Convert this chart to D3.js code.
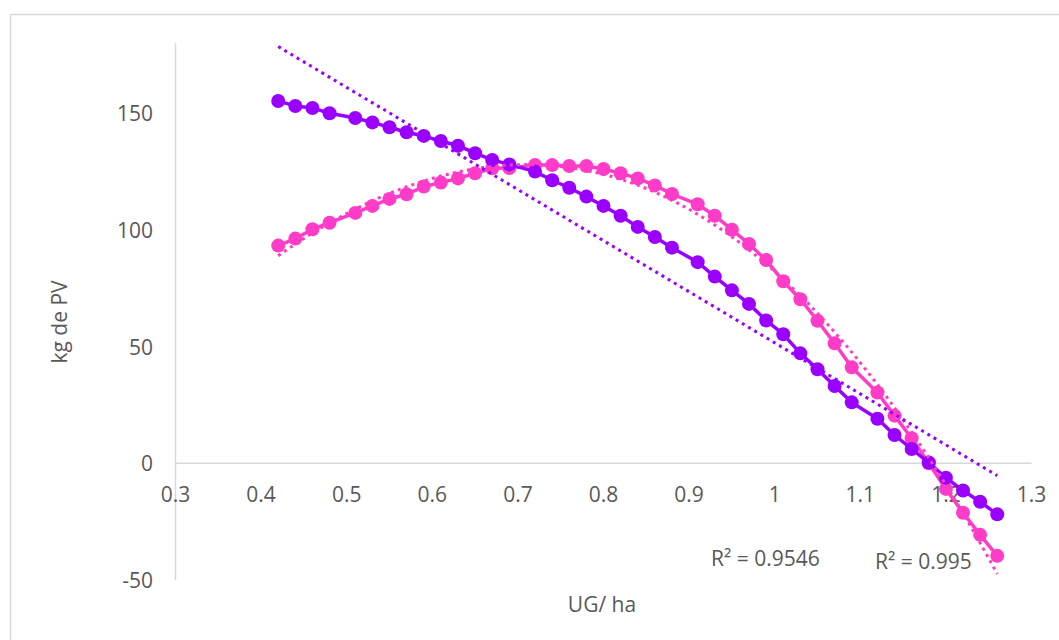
<!DOCTYPE html>
<html>
<head>
<meta charset="utf-8">
<script src="https://cdn.jsdelivr.net/npm/d3@7"></script>
<style>
  body { margin: 0; background: #fff; }
  svg text { font-family: "Open Sans", sans-serif; fill: #595959; }
</style>
</head>
<body>
<svg id="chart" width="1059" height="640"></svg>
<script>
// UG/ha values (x) shared by both series
const ugHa = [0.42, 0.44, 0.46, 0.48, 0.51, 0.53, 0.55, 0.57, 0.59, 0.61, 0.63, 0.65, 0.67, 0.69,
  0.72, 0.74, 0.76, 0.78, 0.80, 0.82, 0.84, 0.86, 0.88,
  0.91, 0.93, 0.95, 0.97, 0.99, 1.01, 1.03, 1.05, 1.07, 1.09,
  1.12, 1.14, 1.16, 1.18, 1.20, 1.22, 1.24, 1.26]

// kg de PV, purple series (linear trend)
const purpleKg = [155.3, 153.1, 152.3, 150, 148, 146.1, 144, 141.9, 140.3, 138.1, 136.1, 132.9, 130, 128.1,
  125, 121.3, 118.1, 114.3, 110.3, 106.1, 101.3, 97, 92.4,
  86.2, 80, 74.1, 68.3, 61.2, 55.3, 47.1, 40.3, 33.1, 26.1,
  19.1, 12.1, 6.1, 0.3, -6.2, -11.7, -16.5, -21.9]

// kg de PV, pink series (polynomial trend)
const pinkKg = [93.3, 96.3, 100.3, 103.1, 107.3, 110.3, 113.3, 115.3, 118.6, 120.3, 122.1, 124.3, 126.4, 126.5,
  127.8, 127.8, 127.4, 127.4, 126.1, 124.3, 122.1, 119.1, 115.4,
  111, 106.1, 100.1, 94, 87.1, 78, 70.3, 61.1, 51.4, 41.1,
  30.3, 20.4, 10.7, 0, -11, -21.2, -30.7, -39.7]

const xTicks = [0.3, 0.4, 0.5, 0.6, 0.7, 0.8, 0.9, 1, 1.1, 1.2, 1.3]
const yTicks = [-50, 0, 50, 100, 150]
const r2Labels = ['R² = 0.9546', 'R² = 0.995']

const purple = '#9900ff',
  pink = '#ff3cc8',
  axisColor = '#d9d9d9';

const svg = d3.select('#chart')

// chart frame
svg.append('rect')
  .attr('x', 10.5).attr('y', 14.5)
  .attr('width', 1100).attr('height', 700)
  .attr('fill', 'none')
  .attr('stroke', axisColor)
  .attr('stroke-width', 1.5)

const x = d3.scaleLinear().domain([0.3, 1.3]).range([175.5, 1031.5])
const y = d3.scaleLinear().domain([-50, 180]).range([579.9, 43.3])

// axes lines
svg.append('line')
  .attr('x1', x(0.3)).attr('x2', x(0.3))
  .attr('y1', y(180)).attr('y2', y(-50))
  .attr('stroke', axisColor).attr('stroke-width', 1.5)

svg.append('line')
  .attr('x1', x(0.3)).attr('x2', x(1.3))
  .attr('y1', y(0)).attr('y2', y(0))
  .attr('stroke', axisColor).attr('stroke-width', 1.5)

// tick labels
svg.selectAll('.xlab')
  .data(xTicks)
  .enter()
  .append('text')
  .attr('class', 'xlab')
  .attr('x', d => x(d))
  .attr('y', y(0) + 39)
  .attr('text-anchor', 'middle')
  .attr('font-size', 21)
  .text(d => d3.format('~g')(d))

svg.selectAll('.ylab')
  .data(yTicks)
  .enter()
  .append('text')
  .attr('class', 'ylab')
  .attr('x', 153)
  .attr('y', d => y(d) + 8)
  .attr('text-anchor', 'end')
  .attr('font-size', 21)
  .text(d => d)

// axis titles
svg.append('text')
  .attr('x', 602)
  .attr('y', 612)
  .attr('text-anchor', 'middle')
  .attr('font-size', 21)
  .text('UG/ ha')

svg.append('text')
  .attr('transform', 'translate(67,322) rotate(-90)')
  .attr('text-anchor', 'middle')
  .attr('font-size', 21)
  .text('kg de PV')

// least squares polynomial fit, like excel trendlines
function polyFit(xs, ys, order) {
  let n = order + 1
  let A = [], b = []
  for (let i = 0; i < n; i++) {
    A.push(new Array(n).fill(0))
    b.push(0)
  }
  xs.forEach((xv, k) => {
    for (let i = 0; i < n; i++) {
      b[i] += ys[k] * Math.pow(xv, i)
      for (let j = 0; j < n; j++) A[i][j] += Math.pow(xv, i + j)
    }
  })
  // gauss elimination
  for (let i = 0; i < n; i++) {
    let p = i
    for (let r = i + 1; r < n; r++) if (Math.abs(A[r][i]) > Math.abs(A[p][i])) p = r;
    [A[i], A[p]] = [A[p], A[i]];
    [b[i], b[p]] = [b[p], b[i]];
    for (let r = i + 1; r < n; r++) {
      let f = A[r][i] / A[i][i]
      for (let c = i; c < n; c++) A[r][c] -= f * A[i][c]
      b[r] -= f * b[i]
    }
  }
  let coef = new Array(n).fill(0)
  for (let i = n - 1; i >= 0; i--) {
    let s = b[i]
    for (let c = i + 1; c < n; c++) s -= A[i][c] * coef[c]
    coef[i] = s / A[i][i]
  }
  return xv => coef.reduce((acc, c, i) => acc + c * Math.pow(xv, i), 0)
}

const line = d3.line().x(d => x(d[0])).y(d => y(d[1]))

function drawSeries(vals, color) {
  let pts = ugHa.map((d, i) => [d, vals[i]])
  svg.append('path')
    .datum(pts)
    .attr('d', line)
    .attr('fill', 'none')
    .attr('stroke', color)
    .attr('stroke-width', 3.5)
  svg.append('g')
    .selectAll('circle')
    .data(pts)
    .enter()
    .append('circle')
    .attr('cx', d => x(d[0]))
    .attr('cy', d => y(d[1]))
    .attr('r', 7)
    .attr('fill', color)
}

function drawTrend(vals, order, color) {
  let f = polyFit(ugHa, vals, order)
  let x0 = d3.min(ugHa), x1 = d3.max(ugHa)
  let pts = d3.range(0, 201).map(i => {
    let xv = x0 + (x1 - x0) * i / 200
    return [xv, f(xv)]
  })
  svg.append('path')
    .datum(pts)
    .attr('d', line)
    .attr('fill', 'none')
    .attr('stroke', color)
    .attr('stroke-width', 3)
    .attr('stroke-dasharray', '3,4.2')
}

drawSeries(pinkKg, pink)
drawSeries(purpleKg, purple)
drawTrend(pinkKg, 3, pink)
drawTrend(purpleKg, 1, purple)

// R² labels
svg.append('text')
  .attr('x', 711).attr('y', 566)
  .attr('font-size', 21)
  .text(r2Labels[0])

svg.append('text')
  .attr('x', 875).attr('y', 569)
  .attr('font-size', 21)
  .text(r2Labels[1])
</script>
</body>
</html>
